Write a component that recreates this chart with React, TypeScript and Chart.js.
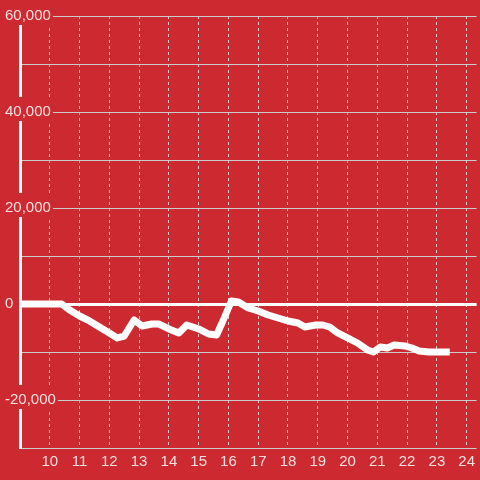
import React, { useEffect, useRef } from "react";
import { Chart, registerables } from "chart.js";

Chart.register(...registerables);

const BG = "rgb(204,42,48)";

// hours of day
const hours = [
  9, 10.4, 10.667, 11.0, 11.333, 11.667, 12.0, 12.267, 12.5, 12.833, 13.1, 13.433,
  13.667, 14.0, 14.333, 14.6, 15.0, 15.333, 15.6, 15.8, 16.1, 16.333, 16.667, 17.0,
  17.333, 17.667, 18.0, 18.333, 18.567, 18.933, 19.167, 19.4, 19.667, 20.0, 20.333,
  20.667, 20.867, 21.1, 21.333, 21.567, 21.933, 22.167, 22.4, 22.733, 23.433,
];
const values = [
  0, 0, -1250, -2500, -3540, -4790, -6040, -7080, -6670, -3330, -4580, -4170,
  -4170, -5200, -6040, -4375, -5200, -6250, -6460, -3750, 625, 417, -833, -1460,
  -2290, -2920, -3540, -3960, -4790, -4375, -4375, -4790, -6040, -7080, -8125,
  -9580, -10000, -8960, -9170, -8540, -8750, -9170, -9790, -10000, -10000,
];
const xTicks = [10, 11, 12, 13, 14, 15, 16, 17, 18, 19, 20, 21, 22, 23, 24];
const yLabelled = [60000, 40000, 20000, 0, -20000];

export default function App() {
  const ref = useRef<HTMLCanvasElement | null>(null);
  useEffect(() => {
    if (!ref.current) return;
    const chart = new Chart(ref.current, {
      type: "line",
      data: {
        datasets: [
          {
            data: hours.map((h, i) => ({ x: h, y: values[i] })),
            borderColor: "#ffffff",
            borderWidth: 7,
            pointRadius: 0,
            tension: 0,
            fill: false,
            borderCapStyle: "butt",
            borderJoinStyle: "round",
          },
        ],
      },
      options: {
        animation: false,
        responsive: false,
        layout: { padding: { top: 16, left: 5, right: 0, bottom: 0 } },
        plugins: { legend: { display: false }, tooltip: { enabled: false } },
        font: { family: "'Liberation Sans', Arial, sans-serif", size: 15 },
        scales: {
          x: {
            type: "linear",
            min: 9,
            max: 24 + 1 / 3,
            afterBuildTicks: (s: any) => {
              s.ticks = xTicks.map((v) => ({ value: v }));
            },
            afterFit: (s: any) => {
              s.height = 32;
            },
            grid: { color: "#cccccc", lineWidth: 1, drawTicks: false },
            border: { display: false, dash: [3, 3] },
            ticks: {
              color: "rgba(255,255,255,0.85)",
              font: { family: "'Liberation Sans', Arial, sans-serif", size: 15 },
              padding: 5,
              maxRotation: 0,
              callback: (v: any) => String(v),
            },
          },
          y: {
            type: "linear",
            min: -30000,
            max: 60000,
            afterFit: (s: any) => {
              s.width = 15;
            },
            grid: {
              color: (c: any) => (c.tick && c.tick.value === 0 ? "#ffffff" : "#cccccc"),
              lineWidth: (c: any) => (c.tick && c.tick.value === 0 ? 3 : 1),
              drawTicks: false,
            },
            border: { display: true, color: "#ffffff", width: 3 },
            ticks: {
              stepSize: 10000,
              mirror: true,
              crossAlign: "near",
              padding: -15,
              color: "rgba(255,255,255,0.85)",
              font: { family: "'Liberation Sans', Arial, sans-serif", size: 15 },
              showLabelBackdrop: true,
              backdropColor: (c: any) =>
                c.tick && yLabelled.includes(c.tick.value) ? BG : "rgba(0,0,0,0)",
              backdropPadding: { top: 6, bottom: 0, left: 2, right: 2 },
              callback: (v: any) =>
                yLabelled.includes(Number(v)) ? Number(v).toLocaleString("en-US") : "",
            },
          },
        },
      } as any,
    });
    return () => chart.destroy();
  }, []);
  return (
    <div
      style={{
        position: "fixed",
        left: 0,
        top: 0,
        width: 480,
        height: 480,
        background: BG,
      }}
    >
      <canvas ref={ref} width={480} height={480} style={{ display: "block" }} />
    </div>
  );
}
